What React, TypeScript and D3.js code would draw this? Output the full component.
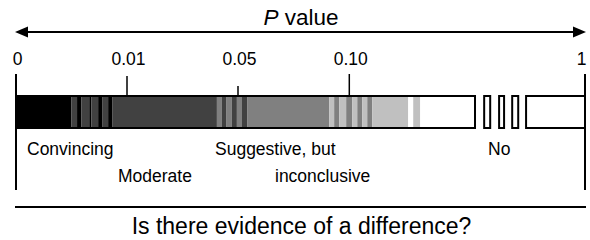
import { scaleLinear, scaleOrdinal } from "d3";

// P-value axis: ticks and their labels
const pTicks = [0, 0.01, 0.05, 0.1, 1];
const pTickLabels = ["0", "0.01", "0.05", "0.10", "1"];

// shaded bar: edges in P value, shade level per band
// level 0 = black (convincing) ... 4 = white (no evidence)
const bandEdges = [
  0, 0.005, 0.0055, 0.0059, 0.0066, 0.0068, 0.0074, 0.0078, 0.0083, 0.0087,
  0.0424, 0.0442, 0.0457, 0.0478, 0.0496, 0.0518, 0.0541,
  0.091, 0.0932, 0.0955, 0.0986, 0.1114, 0.1305, 0.1496, 0.1686, 0.1877,
  0.325, 0.3441, 0.3708, 0.58,
];
const bandLevels = [
  0, 1, 0, 1, 0, 1, 0, 1, 0,
  1, 2, 1, 2, 1, 2, 1,
  2, 3, 2, 3, 2, 3, 2, 3, 2,
  3, 4, 3, 4,
];

// separate open boxes towards P = 1
const boxStarts = [0.615, 0.672, 0.722, 0.775];
const boxEnds = [0.638, 0.691, 0.745, 1];

const verdictLines = ["Convincing", "Moderate", "Suggestive, but", "inconclusive", "No"];
const title = "value";
const question = "Is there evidence of a difference?";

const W = 590;
const H = 240;
const FONT = "'Liberation Sans', Arial, Helvetica, sans-serif";
const BAR_Y = 96;
const BAR_H = 32;
const AXIS_Y = 32;

// where each verdict line sits (left edge, baseline)
const verdictPos = [
  { x: 27, y: 155 },
  { x: 118, y: 182 },
  { x: 215, y: 155 },
  { x: 275, y: 182 },
  { x: 488, y: 155 },
];
const tickTop: Record<string, number> = { "0": 74, "0.01": 76, "0.05": 86, "0.10": 74, "1": 74 };

export default function App() {
  // piecewise scale: equal spacing for 0..0.10, compressed tail up to 1
  const x = scaleLinear().domain(pTicks).range([16, 127, 238, 349.3, 585]);
  const shade = scaleOrdinal<number, string>()
    .domain([0, 1, 2, 3, 4])
    .range(["#000000", "#414141", "#808080", "#c0c0c0", "#ffffff"]);

  const x0 = x(0);
  const x1 = x(1);

  return (
    <svg
      width={W}
      height={H}
      viewBox={`0 0 ${W} ${H}`}
      style={{ position: "absolute", left: 0, top: 0, background: "#fff" }}
      fontFamily={FONT}
    >
      {/* title + double arrow */}
      <text x={301} y={25} textAnchor="middle" fontSize={22.5} fill="#000">
        <tspan fontStyle="italic">P</tspan> {title}
      </text>
      <line x1={x0 + 10} x2={x1 - 10} y1={AXIS_Y} y2={AXIS_Y} stroke="#000" strokeWidth={2} />
      <path d={`M${x0 - 1},${AXIS_Y} L${x0 + 12},${AXIS_Y - 5.5} L${x0 + 12},${AXIS_Y + 5.5} Z`} fill="#000" />
      <path d={`M${x1 + 1},${AXIS_Y} L${x1 - 12},${AXIS_Y - 5.5} L${x1 - 12},${AXIS_Y + 5.5} Z`} fill="#000" />

      {/* ticks */}
      {pTicks.map((t, i) => (
        <g key={t}>
          <text
            x={i === pTicks.length - 1 ? x(t) + 1.5 : x(t) + 1.5}
            y={65}
            textAnchor={i === pTicks.length - 1 ? "end" : "middle"}
            fontSize={17.5}
            fill="#000"
          >
            {pTickLabels[i]}
          </text>
          <line
            x1={x(t)}
            x2={x(t)}
            y1={tickTop[pTickLabels[i]]}
            y2={i === 0 || i === pTicks.length - 1 ? 190 : BAR_Y}
            stroke="#000"
            strokeWidth={i === 0 || i === pTicks.length - 1 ? 2 : 1.5}
          />
        </g>
      ))}

      {/* shaded bands */}
      {bandLevels.map((lv, i) => (
        <rect
          key={i}
          x={x(bandEdges[i])}
          y={BAR_Y}
          width={x(bandEdges[i + 1]) - x(bandEdges[i])}
          height={BAR_H}
          fill={shade(lv)}
        />
      ))}
      <rect
        x={x0}
        y={BAR_Y}
        width={x(bandEdges[bandEdges.length - 1]) - x0}
        height={BAR_H}
        fill="none"
        stroke="#000"
        strokeWidth={2}
      />

      {/* open boxes */}
      {boxStarts.map((s, i) => (
        <rect
          key={i}
          x={x(s)}
          y={BAR_Y}
          width={x(boxEnds[i]) - x(s)}
          height={BAR_H}
          fill="#fff"
          stroke="#000"
          strokeWidth={2}
        />
      ))}

      {/* verdict labels */}
      {verdictLines.map((s, i) => (
        <text key={s} x={verdictPos[i].x} y={verdictPos[i].y} fontSize={17.5} fill="#000">
          {s}
        </text>
      ))}

      {/* bottom question */}
      <line x1={x0 - 1} x2={x1 + 1} y1={207} y2={207} stroke="#000" strokeWidth={2} />
      <text x={301.5} y={234} textAnchor="middle" fontSize={23} fill="#000">
        {question}
      </text>
    </svg>
  );
}
